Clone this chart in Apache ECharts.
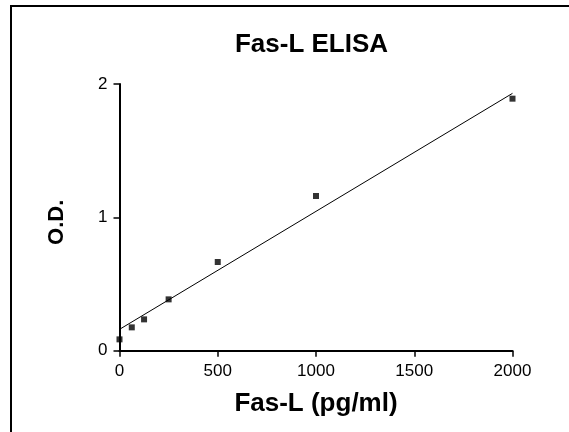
<!DOCTYPE html>
<html>
<head>
<meta charset="utf-8">
<script src="https://cdn.jsdelivr.net/npm/echarts@6/dist/echarts.min.js"></script>
<style>
html,body{margin:0;padding:0;background:#fff;}
#chart{width:569px;height:432px;}
</style>
</head>
<body>
<div id="chart"></div>
<script>
var concentrations = [0, 62.5, 125, 250, 500, 1000, 2000];
var odValues = [0.085, 0.175, 0.235, 0.385, 0.665, 1.16, 1.89];
var fitX = [0, 2000];
var fitY = [0.16, 1.93];
var xTicks = [0, 500, 1000, 1500, 2000];
var yTicks = [0, 1, 2];

var FONT = '"Liberation Sans", Arial, sans-serif';
var chart = echarts.init(document.getElementById('chart'), null, {renderer: 'canvas'});

chart.setOption({
  animation: false,
  backgroundColor: '#fff',
  title: {
    text: 'Fas-L ELISA',
    left: 306.5,
    textAlign: 'center',
    top: 27,
    textStyle: {fontFamily: FONT, fontSize: 26, fontWeight: 'bold', color: '#000'}
  },
  graphic: [{
    type: 'rect',
    shape: {x: 11, y: 6, width: 640, height: 520},
    style: {fill: 'none', stroke: '#000', lineWidth: 2},
    silent: true
  }],
  grid: {left: 119.5, right: 56.5, top: 84, bottom: 81.3, containLabel: false},
  xAxis: {
    type: 'value',
    min: xTicks[0],
    max: xTicks[xTicks.length - 1],
    interval: 500,
    name: 'Fas-L (pg/ml)',
    nameLocation: 'middle',
    nameGap: 40,
    nameTextStyle: {fontFamily: FONT, fontSize: 26, fontWeight: 'bold', color: '#000'},
    axisLine: {show: true, onZero: false, lineStyle: {color: '#000', width: 2}},
    axisTick: {show: true, inside: false, length: 6, lineStyle: {color: '#000', width: 1.5}},
    axisLabel: {fontFamily: FONT, fontSize: 17, color: '#000', margin: 12,
      formatter: function (v) { return String(v); }},
    splitLine: {show: false}
  },
  yAxis: {
    type: 'value',
    min: yTicks[0],
    max: yTicks[yTicks.length - 1],
    interval: 1,
    name: 'O.D.',
    nameLocation: 'middle',
    nameRotate: 90,
    nameGap: 52,
    nameTextStyle: {fontFamily: FONT, fontSize: 22, fontWeight: 'bold', color: '#000', padding: [0, 10, 0, 0]},
    axisLine: {show: true, onZero: false, lineStyle: {color: '#000', width: 2}},
    axisTick: {show: true, inside: false, length: 6, lineStyle: {color: '#000', width: 1.5}},
    axisLabel: {fontFamily: FONT, fontSize: 17, color: '#000', margin: 12,
      formatter: function (v) { return String(v); }},
    splitLine: {show: false}
  },
  series: [
    {
      type: 'line',
      data: fitX.map(function (x, i) { return [x, fitY[i]]; }),
      showSymbol: false,
      symbol: 'none',
      lineStyle: {color: '#000', width: 1},
      z: 2
    },
    {
      type: 'scatter',
      data: concentrations.map(function (x, i) { return [x, odValues[i]]; }),
      symbol: 'rect',
      symbolSize: 6,
      itemStyle: {color: '#000'},
      z: 3
    }
  ]
});
</script>
</body>
</html>
